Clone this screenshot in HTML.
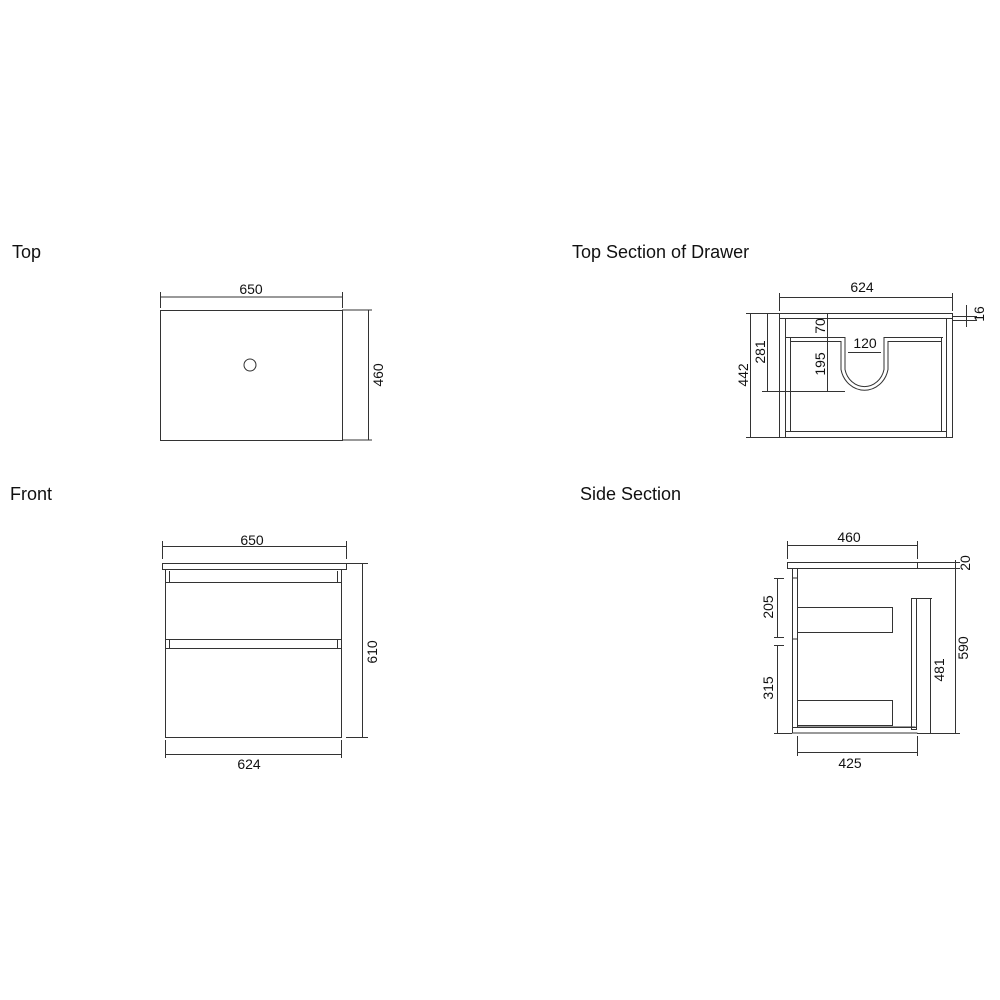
<!DOCTYPE html>
<html><head><style>body{margin:0;background:#fff}svg{display:block}</style></head><body>
<svg width="1000" height="1000" xmlns="http://www.w3.org/2000/svg" font-family="Liberation Sans, sans-serif" fill="none" stroke="#333" stroke-width="1">
<g fill="#111" stroke="none" font-size="18">
<text x="12" y="258">Top</text>
<text x="572" y="258">Top Section of Drawer</text>
<text x="10" y="500">Front</text>
<text x="580" y="500">Side Section</text>
</g>
<g fill="#111" stroke="none" font-size="14" text-anchor="middle">
<text x="251" y="294">650</text>
<text transform="translate(383,375) rotate(-90)">460</text>
<text x="862" y="292">624</text>
<text transform="translate(748,375) rotate(-90)">442</text>
<text transform="translate(765,352) rotate(-90)">281</text>
<text transform="translate(825,326) rotate(-90)">70</text>
<text transform="translate(825,364) rotate(-90)">195</text>
<text x="865" y="348">120</text>
<text transform="translate(984,314) rotate(-90)">16</text>
<text x="252" y="545">650</text>
<text transform="translate(377,652) rotate(-90)">610</text>
<text x="249" y="769">624</text>
<text x="849" y="542">460</text>
<text transform="translate(970,563) rotate(-90)">20</text>
<text transform="translate(968,648) rotate(-90)">590</text>
<text transform="translate(944,670) rotate(-90)">481</text>
<text transform="translate(773,607) rotate(-90)">205</text>
<text transform="translate(773,688) rotate(-90)">315</text>
<text x="850" y="768">425</text>
</g>
<!-- Top -->
<rect x="160.5" y="310.5" width="182" height="130"/>
<path d="M160.5 292v16M342.5 292v16M160 297h183M342 310h30M342 440h30M368.5 310v130"/>
<circle cx="250" cy="365" r="6"/>
<!-- Top section drawer -->
<rect x="779.5" y="313.5" width="173" height="124"/>
<path d="M779 318.5h173M785.5 318v119M946.5 318v119M785 431.5h162M790.5 337v95M941.5 337v95"/>
<path d="M786 337.5h59v32a20 22 0 0 0 39 0v-32h59M790 341.5h51v28a24 26 0 0 0 47 0v-28h53"/>
<path d="M779.5 293v18M952.5 293v18M779 297.5h173M746 313.5h33M746 437.5h33M750.5 313v124M762 391.5h83M767.5 313v78M827.5 313v78M848 352.5h33M952 316.5h25M952 320.5h25M966.5 305v22"/>
<!-- Front -->
<rect x="162.5" y="563.5" width="184" height="6"/>
<rect x="165.5" y="569.5" width="176" height="168"/>
<path d="M165 582.5h176M165 639.5h176M165 648.5h176M169.5 571v11M337.5 571v11M169.5 640v9M337.5 640v9"/>
<path d="M162.5 541v18M346.5 541v18M162 546.5h184M346 563.5h22M346 737.5h22M362.5 564v173M165.5 740v18M341.5 740v18M165 754.5h176"/>
<!-- Side section -->
<rect x="787.5" y="562.5" width="130" height="6"/>
<path d="M792.5 568v165h125M797.5 568v159h118M792 727.5h125M797.5 568v10h-5M797.5 629v10h-5"/>
<rect x="911.5" y="598.5" width="5" height="131"/>
<rect x="797.5" y="607.5" width="95" height="25"/>
<rect x="797.5" y="700.5" width="95" height="25"/>
<path d="M787.5 541v18M917.5 541v18M787 545.5h130M917 562.5h43M917 568.5h43M955.5 560v173M917 598.5h15M930.5 598v135M917 733.5h43M774 578.5h10M777.5 578v59M774 637.5h10M774 645.5h10M777.5 645v88M774 733.5h18M797.5 736v20M917.5 736v20M797 752.5h120"/>
</svg>
</body></html>
